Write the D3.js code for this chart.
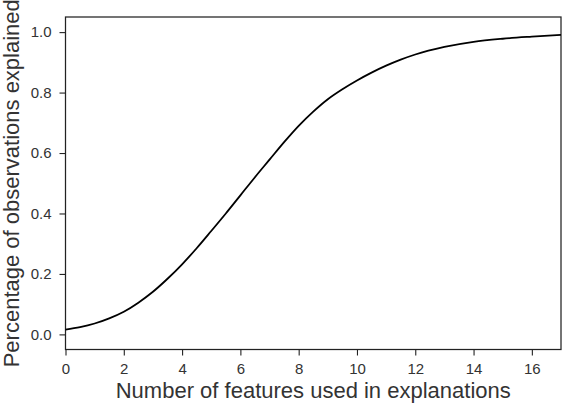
<!DOCTYPE html>
<html>
<head>
<meta charset="utf-8">
<script src="https://cdn.jsdelivr.net/npm/d3@7"></script>
<style>
  body { margin: 0; background: #fff; }
  text { font-family: "Liberation Sans", Arial, sans-serif; }
</style>
</head>
<body>
<div id="chart"></div>
<script>
// values
const features = [0, 0.5, 1, 1.5, 2, 2.5, 3, 3.5, 4, 4.5, 5, 5.5, 6, 6.5, 7, 7.5, 8, 8.5, 9, 9.5, 10, 10.5, 11, 11.5, 12, 13, 14, 15, 16, 17];
const explained = [0.016, 0.024, 0.036, 0.053, 0.075, 0.105, 0.141, 0.184, 0.232, 0.285, 0.342, 0.40, 0.46, 0.52, 0.578, 0.636, 0.69, 0.737, 0.778, 0.811, 0.84, 0.866, 0.889, 0.909, 0.926, 0.951, 0.968, 0.978, 0.985, 0.991];
const xTicks = [0, 2, 4, 6, 8, 10, 12, 14, 16];
const yTicks = [0.0, 0.2, 0.4, 0.6, 0.8, 1.0];

const width = 564, height = 404;
let margin = {left: 65.5, right: 3, top: 17, bottom: 54.5};

const data = features.map((f, i) => ({x: f, y: explained[i]}));

const svg = d3.select("#chart")
            .append("svg")
            .attr("width", width)
            .attr("height", height);

let x = d3.scaleLinear()
      .domain([0, 17])
      .range([margin.left, width - margin.right]);
let y = d3.scaleLinear()
      .domain([-0.05, 1.05])
      .range([height - margin.bottom, margin.top]);

// axes
let xAxis = svg.append("g")
      .attr("transform", `translate(0, ${height - margin.bottom})`)
      .call(d3.axisBottom(x).tickValues(xTicks).tickSize(6).tickPadding(8).tickFormat(d3.format("d")));
let yAxis = svg.append("g")
      .attr("transform", `translate(${margin.left}, 0)`)
      .call(d3.axisLeft(y).tickValues(yTicks).tickSize(6).tickPadding(8).tickFormat(d3.format(".1f")));

[xAxis, yAxis].forEach(g => {
  g.select(".domain").remove();
  g.selectAll(".tick line").attr("stroke", "#222").attr("stroke-width", 1.1);
  g.selectAll(".tick text")
    .attr("fill", "#333")
    .style("font-size", "15px")
    .style("font-family", "'Liberation Sans', Arial, sans-serif");
});

// frame
svg.append("rect")
    .attr("x", margin.left)
    .attr("y", margin.top)
    .attr("width", width - margin.right - margin.left)
    .attr("height", height - margin.bottom - margin.top)
    .attr("fill", "none")
    .attr("stroke", "#222")
    .attr("stroke-width", 1.25);

// curve
let line = d3.line()
      .x(d => x(d.x))
      .y(d => y(d.y))
      .curve(d3.curveMonotoneX);

svg.append("path")
    .datum(data)
    .attr("d", line)
    .attr("fill", "none")
    .attr("stroke", "#000")
    .attr("stroke-width", 1.8);

// labels
svg.append("text")
    .attr("x", (margin.left + width - margin.right) / 2)
    .attr("y", 398)
    .attr("text-anchor", "middle")
    .attr("fill", "#333")
    .style("font-size", "22px")
    .text("Number of features used in explanations");

svg.append("text")
    .attr("transform", `translate(19, ${(margin.top + height - margin.bottom) / 2}) rotate(-90)`)
    .attr("text-anchor", "middle")
    .attr("fill", "#333")
    .style("font-size", "22px")
    .text("Percentage of observations explained");
</script>
</body>
</html>
